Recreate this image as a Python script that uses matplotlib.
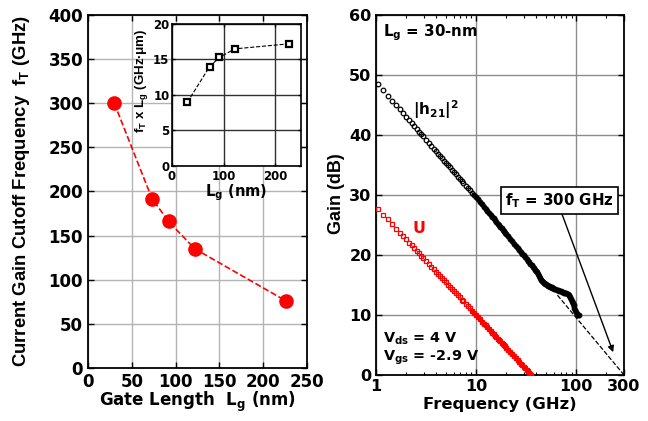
import matplotlib
matplotlib.use("Agg")
import matplotlib.pyplot as plt
from matplotlib.ticker import FixedLocator, NullFormatter

plt.rcParams['font.family'] = ['DejaVu Sans']
plt.rcParams['font.weight'] = 'bold'
plt.rcParams['mathtext.fontset'] = 'dejavusans'
plt.rcParams['mathtext.default'] = 'bf'
plt.rcParams['mathtext.rm'] = 'Liberation Sans:bold'
plt.rcParams['mathtext.bf'] = 'Liberation Sans:bold'
plt.rcParams['mathtext.it'] = 'Liberation Sans:bold'
plt.rcParams['mathtext.sf'] = 'Liberation Sans:bold'

# ---------------- data: left panel ----------------
gate_length_nm = [30, 73, 92, 122, 226]
ft_ghz = [300, 192, 166, 135, 76]
ft_x_lg = [9.0, 14.0, 15.3, 16.5, 17.2]

# ---------------- data: right panel ----------------
h21_freq = [1.05, 1.19, 1.32, 1.46, 1.60, 1.74, 1.87, 2.01, 2.15, 2.29, 2.42, 2.56, 2.70, 2.84, 2.97,
            3.2, 3.4, 3.6, 3.8, 4.0, 4.2, 4.4, 4.6, 4.8, 5.0, 5.25, 5.5, 5.75, 6.0, 6.3, 6.6, 6.9,
            7.2, 7.5, 7.9, 8.3, 8.7, 9.1, 9.5,
            10, 10.5, 11, 11.5, 12, 12.5, 13, 13.5, 14, 14.5, 15, 15.5, 16, 16.5, 17, 17.5, 18,
            18.5, 19, 19.5, 20, 21, 22, 23, 24, 25, 26, 27, 28, 29, 30, 31, 32, 33, 34, 35, 36,
            37, 38, 39, 40, 41, 42, 43, 44, 45, 46, 47, 48, 49, 50, 51, 52, 53, 54, 55, 56, 57,
            58, 59, 60, 62, 64, 66, 68, 70, 72, 74, 76, 78, 80, 82, 84, 86, 88, 90, 92, 94, 96,
            98, 100, 102, 104, 106]
h21_gain = [48.49, 47.44, 46.57, 45.73, 44.96, 44.26, 43.65, 43.05, 42.48, 41.96, 41.49, 41.02,
            40.57, 40.15, 39.78,
            39.15, 38.64, 38.16, 37.71, 37.28, 36.87, 36.48, 36.11, 35.75, 35.41, 35.00, 34.61,
            34.24, 33.88, 33.47, 33.08, 32.71, 32.35, 32.01, 31.58, 31.16, 30.77, 30.39, 30.03,
            29.70, 29.27, 28.85, 28.46, 28.08, 27.71, 27.37, 27.03, 26.70, 26.39, 26.09, 25.80,
            25.52, 25.24, 24.98, 24.72, 24.47, 24.22, 23.98, 23.75, 23.53, 23.09, 22.68, 22.29,
            21.91, 21.54, 21.19, 20.86, 20.53, 20.22, 19.92, 19.63, 19.35, 19.07, 18.80, 18.55,
            18.30, 18.05, 17.81, 17.58, 17.36, 17.1, 16.8, 16.5, 16.2, 15.9, 15.7, 15.55, 15.4,
            15.2, 15.1, 15.0, 14.9, 14.85, 14.8, 14.7, 14.65, 14.6, 14.5, 14.45, 14.4, 14.3,
            14.2, 14.1, 14.05, 14.0, 13.9, 13.8, 13.7, 13.65, 13.6, 13.5, 13.3, 13.0, 12.7,
            12.4, 12.0, 11.6, 11.2, 10.8, 10.5, 10.2, 10.05, 9.95]

u_freq = [1.05, 1.19, 1.32, 1.46, 1.60, 1.74, 1.87, 2.01, 2.15, 2.29, 2.42, 2.56, 2.70, 2.84, 2.97,
          3.2, 3.4, 3.6, 3.8, 4.0, 4.2, 4.4, 4.6, 4.8, 5.0, 5.25, 5.5, 5.75, 6.0, 6.3, 6.6, 6.9,
          7.2, 7.5, 7.9, 8.3, 8.7, 9.1, 9.5,
          10, 10.5, 11, 11.5, 12, 12.5, 13, 13.5, 14, 14.5, 15, 15.5, 16, 16.5, 17, 17.5, 18,
          18.5, 19, 19.5, 20, 21, 22, 23, 24, 25, 26, 27, 28, 29, 30, 31, 32, 33, 34, 35, 35.7]
u_gain = [27.72, 26.73, 25.92, 25.12, 24.41, 23.75, 23.18, 22.61, 22.08, 21.59, 21.15, 20.71,
          20.29, 19.90, 19.54,
          18.96, 18.48, 18.03, 17.61, 17.20, 16.82, 16.45, 16.10, 15.77, 15.45, 15.06, 14.70,
          14.35, 14.01, 13.63, 13.27, 12.92, 12.58, 12.26, 11.85, 11.46, 11.10, 10.74, 10.40,
          10.00, 9.62, 9.25, 8.90, 8.57, 8.25, 7.94, 7.64, 7.36, 7.08, 6.81, 6.56, 6.31, 6.06,
          5.83, 5.60, 5.38, 5.16, 4.95, 4.75, 4.55, 4.17, 3.80, 3.45, 3.12, 2.80, 2.49, 2.19,
          1.91, 1.63, 1.36, 1.11, 0.86, 0.62, 0.38, 0.15, 0.02]

ft_extrap_freq = [65, 300]
ft_extrap_gain = [13.3, 0.0]

left_xticks = [0, 50, 100, 150, 200, 250]
left_yticks = [0, 50, 100, 150, 200, 250, 300, 350, 400]
inset_xticks = [0, 100, 200]
inset_yticks = [0, 5, 10, 15, 20]
right_xticks = [1, 10, 100, 300]
right_xticklabels = ['1', '10', '100', '300']
right_minor = [2, 3, 4, 5, 6, 7, 8, 9, 20, 30, 40, 50, 60, 70, 80, 90, 200]
right_yticks = [0, 10, 20, 30, 40, 50, 60]

VFONT = dict(fontfamily='Liberation Sans', fontweight='bold', math_fontfamily='custom')

# ---------------- figure ----------------
fig = plt.figure(figsize=(6.48, 4.21), dpi=100)

def style_axes(ax, size=12, width=1.3, pad=3):
    for s in ax.spines.values():
        s.set_linewidth(width)
        s.set_color('black')
    ax.tick_params(direction='in', top=True, right=True, labelsize=size,
                   width=1.0, length=4, pad=pad)
    for lab in ax.get_xticklabels() + ax.get_yticklabels():
        lab.set_fontweight('bold')

# Left main axes
ax1 = fig.add_axes([0.1358, 0.1259, 0.338, 0.8385])
ax1.plot(gate_length_nm, ft_ghz, ls='--', color='red', lw=1.2, marker='o', ms=9.5,
         mfc='red', mec='red', zorder=3)
ax1.set_xlim(0, 250)
ax1.set_ylim(0, 400)
ax1.set_xticks(left_xticks)
ax1.set_yticks(left_yticks)
ax1.grid(True, color='#b4b4b4', lw=1.0)
ax1.set_axisbelow(True)
style_axes(ax1, 12, pad=3.5)
ax1.set_xlabel(r'Gate Length  $\mathbf{L_g}$ (nm)', fontsize=12, fontweight='bold', va='top')
ax1.xaxis.set_label_coords(0.5, -0.063)
ax1.set_ylabel(r'Current Gain Cutoff Frequency  $\mathbf{f_T}$ (GHz)', fontsize=13.3, **VFONT)
ax1.yaxis.set_label_coords(-0.255, 0.5)

# Inset
ax3 = fig.add_axes([0.2654, 0.6057, 0.199, 0.3373])
ax3.set_facecolor('white')
ax3.plot(gate_length_nm, ft_x_lg, ls='--', color='black', lw=0.8, marker='s', ms=5,
         mfc='white', mec='black', mew=1.6, zorder=3)
ax3.set_xlim(0, 250)
ax3.set_ylim(0, 20)
ax3.set_xticks(inset_xticks)
ax3.set_yticks(inset_yticks)
ax3.grid(True, color='#303030', lw=1.0)
ax3.set_axisbelow(True)
style_axes(ax3, 8.5, 1.2, pad=1.8)
ax3.tick_params(axis='x', pad=2.6)
ax3.tick_params(length=2)
ax3.set_xlabel(r'$\mathbf{L_g}$ (nm)', fontsize=10.5, fontweight='bold', labelpad=0)
fig.text(141 / 648, 1 - 81 / 421, r'$\mathbf{f_T}$ x $\mathbf{L_g}$ (GHz$\bullet\mu$m)',
         rotation=90, fontsize=9.6, ha='center', va='center', **VFONT)

# Right axes
ax2 = fig.add_axes([0.5798, 0.1093, 0.3832, 0.855])
ax2.set_xscale('log')
ax2.plot(ft_extrap_freq, ft_extrap_gain, ls='--', color='black', lw=0.9, zorder=2)
i_h = h21_freq.index(9.5)
i_u = u_freq.index(9.1)
ax2.plot(h21_freq[i_h:], h21_gain[i_h:], ls='-', color='black', lw=3.4, zorder=3,
         solid_capstyle='round')
ax2.plot(h21_freq, h21_gain, ls='none', marker='o', ms=3.3, mfc='none', mec='black',
         mew=0.9, zorder=3)
ax2.plot(u_freq[i_u:], u_gain[i_u:], ls='-', color='red', lw=3.0, zorder=3)
ax2.plot(u_freq, u_gain, ls='none', marker='s', ms=3.4, mfc='none', mec='red',
         mew=0.9, zorder=3)
ax2.set_xlim(1, 300)
ax2.set_ylim(0, 60)
ax2.xaxis.set_major_locator(FixedLocator(right_xticks))
ax2.set_xticklabels(right_xticklabels)
ax2.xaxis.set_minor_locator(FixedLocator(right_minor))
ax2.xaxis.set_minor_formatter(NullFormatter())
ax2.set_yticks(right_yticks)
ax2.grid(True, which='major', color='#8c8c8c', lw=1.0)
ax2.set_axisbelow(True)
style_axes(ax2, 11.5, pad=3)
ax2.tick_params(which='minor', direction='in', top=True, length=2, width=0.8)
ax2.set_xlabel('Frequency (GHz)', fontsize=11.8, fontweight='bold', va='top')
ax2.xaxis.set_label_coords(0.5, -0.062)
ax2.set_ylabel('Gain (dB)', fontsize=13, **VFONT)
ax2.yaxis.set_label_coords(-0.125, 0.505)

ax2.text(1.18, 57.0, r'$\mathbf{L_g}$ = 30-nm', fontsize=10.8, fontweight='bold',
         ha='left', va='center')
ax2.text(2.38, 44.3, r'$\mathbf{|h_{21}|^2}$', fontsize=11, fontweight='bold', ha='left',
         va='center')
ax2.text(2.33, 24.5, 'U', fontsize=11.5, fontweight='bold', color='red', ha='left',
         va='center')
ax2.text(1.18, 6.1, r'$\mathbf{V_{ds}}$ = 4 V', fontsize=10.4, fontweight='bold',
         ha='left', va='center')
ax2.text(1.18, 2.9, r'$\mathbf{V_{gs}}$ = -2.9 V', fontsize=10.4, fontweight='bold',
         ha='left', va='center')
ax2.annotate('', xy=(234, 3.8), xytext=(69.7, 27.5),
             arrowprops=dict(arrowstyle='-|>', color='black', lw=1.0, mutation_scale=9,
                             shrinkA=0, shrinkB=0), zorder=4)
ax2.text(68, 29.1, r'$\mathbf{f_T}$ = 300 GHz', fontsize=10.8, fontweight='bold',
         ha='center', va='center', zorder=5,
         bbox=dict(boxstyle='square,pad=0.3', fc='white', ec='black', lw=1.2))

fig.savefig('out.png', dpi=100)
